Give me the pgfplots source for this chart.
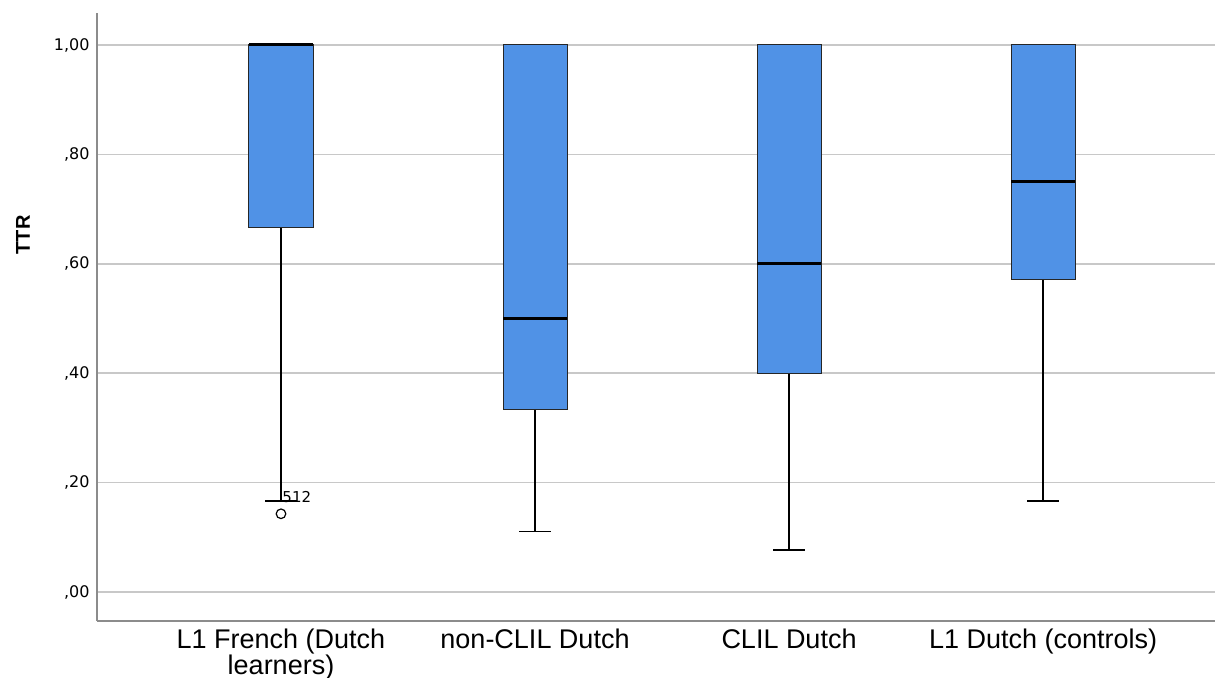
\documentclass[border=0pt]{standalone}
\usepackage{pgfplots}
\pgfplotsset{compat=1.18}
\usepgfplotslibrary{statistics}
\usepackage{fontspec}
\setmainfont{DejaVu Sans}
\newfontfamily\labfont{Liberation Sans}
\newfontfamily\labfontb{Liberation Sans Bold}
\definecolor{boxblue}{RGB}{80,146,230}
\definecolor{gridgray}{RGB}{200,200,200}
\definecolor{axgray}{RGB}{140,140,140}
\begin{document}
\begin{tikzpicture}
\begin{axis}[
  name=ax,
  scale only axis,
  width=1118pt, height=608pt,
  xmin=0.2756, xmax=4.677,
  ymin=-0.053, ymax=1.0585,
  axis x line*=bottom, axis y line*=left,
  axis line style={axgray, line width=1.6pt},
  ytick={0,0.2,0.4,0.6,0.8,1},
  yticklabels={{,00},{,20},{,40},{,60},{,80},{1,00}},
  xtick={1,2,3,4},
  xticklabels={{L1 French (Dutch\\learners)},{non-CLIL Dutch},{CLIL Dutch},{L1 Dutch (controls)}},
  xticklabel style={font=\labfont\fontsize{27}{22}\selectfont, align=center, anchor=north, yshift=-4pt},
  yticklabel style={font=\fontsize{16}{16}\selectfont, anchor=east, xshift=-4pt},
  major tick length=0pt,
  ymajorgrids, grid style={gridgray, line width=1.5pt},
  ylabel={TTR},
  every axis y label/.style={at={(axis description cs:-0.0662,0.635)}, rotate=90, anchor=center, font=\labfontb\fontsize{20}{20}\selectfont},
  clip=false,
  boxplot/draw direction=y,
  boxplot/box extend=0.252,
  boxplot/whisker extend=0.126,
  boxplot/every box/.style={fill=boxblue, draw=black!85, line width=1pt},
  boxplot/every median/.style={black, line width=3pt},
  boxplot/every whisker/.style={black, line width=2pt},
]
\addplot[boxplot prepared={draw position=1, lower whisker=0.167, lower quartile=0.667, median=1, upper quartile=1, upper whisker=0.99}] coordinates {};
\addplot[boxplot prepared={draw position=2, lower whisker=0.111, lower quartile=0.333, median=0.5, upper quartile=1, upper whisker=0.99},
  boxplot/every whisker/.style={black, line width=1.4pt}] coordinates {};
\addplot[boxplot prepared={draw position=3, lower whisker=0.077, lower quartile=0.4, median=0.6, upper quartile=1, upper whisker=0.99}] coordinates {};
\addplot[boxplot prepared={draw position=4, lower whisker=0.167, lower quartile=0.571, median=0.75, upper quartile=1, upper whisker=0.99}] coordinates {};
\addplot[only marks, mark=o, mark size=4.8pt, black, mark options={line width=1.2pt}] coordinates {(1,0.143)};
\node[anchor=west, font=\fontsize{15}{15}\selectfont, inner sep=0pt] at (axis cs:1.005,0.174) {512};
\end{axis}
\pgfresetboundingbox
\path[use as bounding box] ([xshift=-97pt,yshift=-57pt]ax.south west) rectangle ([yshift=13pt]ax.north east);
\end{tikzpicture}
\end{document}
